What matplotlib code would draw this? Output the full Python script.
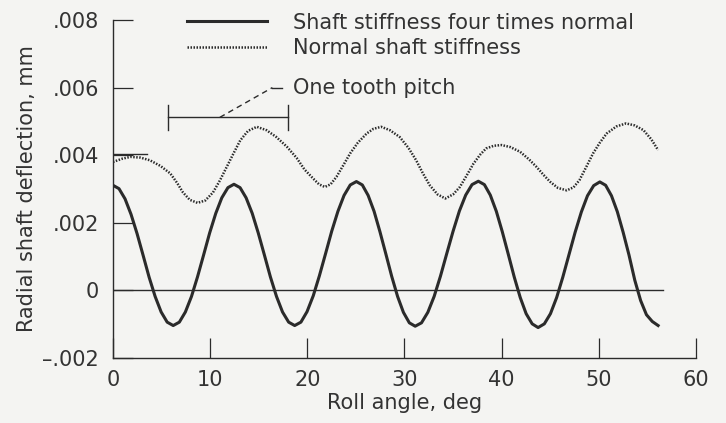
import numpy as np
import matplotlib
matplotlib.use("Agg")
from matplotlib import pyplot as plt
from matplotlib.ticker import FuncFormatter

# roll angle (deg) and deflection (mm)
stiff_x = [0.0, 0.62, 1.24, 1.86, 2.48, 3.1, 3.72, 4.34, 4.96, 5.58,
           6.2, 6.83, 7.45, 8.08, 8.7, 9.33, 9.95, 10.58, 11.2, 11.83,
           12.45, 13.08, 13.7, 14.33, 14.95, 15.58, 16.2, 16.83, 17.45, 18.08,
           18.7, 19.34, 19.97, 20.61, 21.24, 21.88, 22.51, 23.15, 23.78, 24.42,
           25.05, 25.66, 26.26, 26.87, 27.47, 28.08, 28.68, 29.29, 29.89, 30.5,
           31.1, 31.75, 32.4, 33.05, 33.7, 34.35, 35.0, 35.65, 36.3, 36.95,
           37.6, 38.22, 38.83, 39.45, 40.06, 40.68, 41.29, 41.91, 42.52, 43.14,
           43.75, 44.39, 45.02, 45.66, 46.29, 46.93, 47.56, 48.2, 48.83, 49.47,
           50.1, 50.7, 51.3, 51.9, 52.5, 53.1, 53.7, 54.3, 54.9, 55.5, 56.1]
stiff_y = [0.00311, 0.00301, 0.00271, 0.00225, 0.00168, 0.00104, 0.00039, -0.00018, -0.00064, -0.00094,
           -0.00104, -0.00094, -0.00064, -0.00018, 0.00040, 0.00105, 0.00170, 0.00228, 0.00274, 0.00304,
           0.00314, 0.00304, 0.00274, 0.00228, 0.00170, 0.00105, 0.00040, -0.00018, -0.00064, -0.00094,
           -0.00104, -0.00094, -0.00063, -0.00016, 0.00043, 0.00109, 0.00175, 0.00234, 0.00281, 0.00312,
           0.00322, 0.00312, 0.00281, 0.00234, 0.00174, 0.00108, 0.00042, -0.00018, -0.00065, -0.00096,
           -0.00106, -0.00096, -0.00065, -0.00018, 0.00042, 0.00109, 0.00175, 0.00235, 0.00282, 0.00313,
           0.00323, 0.00313, 0.00282, 0.00234, 0.00174, 0.00107, 0.00040, -0.00021, -0.00069, -0.00099,
           -0.00110, -0.00099, -0.00069, -0.00021, 0.00039, 0.00106, 0.00172, 0.00232, 0.00280, 0.00310,
           0.00321, 0.00311, 0.00280, 0.00233, 0.00172, 0.00105, 0.00030, -0.00030, -0.00072, -0.00092, -0.00104]

normal_x = [0.0, 1.0, 1.8, 2.8, 3.8, 4.9, 5.9, 6.6, 7.2, 7.9, 8.7, 9.5, 10.3,
            11.0, 11.7, 12.4, 13.1, 13.9, 14.8, 15.8, 16.8, 17.9, 18.9, 19.7, 20.6,
            21.2, 21.8, 22.4, 23.0, 23.7, 24.4, 25.2, 26.1, 26.8, 27.6, 28.5, 29.5,
            30.4, 31.2, 31.9, 32.6, 33.4, 34.2, 35.0, 35.7, 36.4, 37.1, 37.8, 38.4,
            39.2, 40.0, 40.9, 41.9, 42.8, 43.6, 44.3, 45.0, 45.8, 46.7, 47.4, 48.0,
            48.7, 49.4, 50.1, 50.8, 51.8, 52.8, 53.7, 54.6, 55.4, 56.1]
normal_y = [0.00380, 0.00390, 0.00395, 0.00393, 0.00385, 0.00368, 0.00346, 0.00318, 0.00290, 0.00268,
            0.00259, 0.00266, 0.00290, 0.00325, 0.00365, 0.00405, 0.00444, 0.00472, 0.00484, 0.00474,
            0.00454, 0.00425, 0.00392, 0.00358, 0.00331, 0.00314, 0.00306, 0.00314, 0.00336, 0.00370,
            0.00405, 0.00437, 0.00464, 0.00478, 0.00484, 0.00474, 0.00454, 0.00422, 0.00385, 0.00346,
            0.00311, 0.00284, 0.00272, 0.00284, 0.00306, 0.00340, 0.00375, 0.00402, 0.00420, 0.00428,
            0.00430, 0.00424, 0.00410, 0.00388, 0.00365, 0.00342, 0.00321, 0.00303, 0.00296, 0.00305,
            0.00326, 0.00365, 0.00405, 0.00437, 0.00464, 0.00485, 0.00494, 0.00488, 0.00474, 0.00447,
            0.00415]

# short flat trace at the start of the normal curve
flat_x = [0.0, 3.5]
flat_y = [0.00403, 0.00403]

# one tooth pitch bracket
pitch_x = [5.7, 18.0]
pitch_y = 0.00512

zero_x = [0.0, 56.6]

x_ticks = [0, 10, 20, 30, 40, 50, 60]
y_ticks = [-0.002, 0.0, 0.002, 0.004, 0.006, 0.008]

ink = "#2b2b2b"
text_ink = "#333333"
bg = "#f4f4f2"

plt.rcParams["font.family"] = ["DejaVu Sans"]
plt.rcParams["font.size"] = 15

fig = plt.figure(figsize=(7.26, 4.23), dpi=100, facecolor=bg)
ax = fig.add_axes([0.1556, 0.1537, 0.8031, 0.7990], facecolor=bg)

ax.plot(zero_x, [0, 0], color=ink, lw=1.0)
ax.plot(flat_x, flat_y, color=ink, lw=1.0)
ax.plot(normal_x, normal_y, color=ink, lw=1.8, linestyle=(0, (0.6, 0.6)),
        label="Normal shaft stiffness")
ax.plot(stiff_x, stiff_y, color=ink, lw=2.2, solid_joinstyle="round",
        label="Shaft stiffness four times normal")

# bracket with end caps
ax.plot(pitch_x, [pitch_y, pitch_y], color=ink, lw=1.0)
for px in pitch_x:
    ax.plot([px, px], [pitch_y - 0.00037, pitch_y + 0.00037], color=ink, lw=1.0)

# leader to the label
ax.plot([11.0, 16.4], [pitch_y, 0.00600], color=ink, lw=1.0, linestyle=(0, (4, 3)))
ax.plot([16.4, 17.4], [0.00600, 0.00600], color=ink, lw=1.0)
ax.text(18.5, 0.00600, "One tooth pitch", color=text_ink, va="center", ha="left")

h, l = ax.get_legend_handles_labels()
leg = ax.legend(h[::-1], l[::-1], loc="center left", bbox_to_anchor=(0.127, 0.955),
                frameon=False, handlelength=3.85, handletextpad=1.25,
                labelspacing=0.25, borderpad=0, borderaxespad=0)
for t in leg.get_texts():
    t.set_color(text_ink)

ax.set_xlim(0, 60)
ax.set_ylim(-0.002, 0.008)
ax.set_xticks(x_ticks)
ax.set_yticks(y_ticks)


def fmt(v, pos):
    if abs(v) < 1e-12:
        return "0"
    s = f"{abs(v):.3f}".lstrip("0")
    return ("\u2013" if v < 0 else "") + s


ax.yaxis.set_major_formatter(FuncFormatter(fmt))
ax.tick_params(direction="in", length=14.5, width=0.9, color=ink, labelcolor=text_ink)
ax.tick_params(axis="y", pad=10)
ax.tick_params(axis="x", pad=9)

for side in ["top", "right"]:
    ax.spines[side].set_visible(False)
for side in ["left", "bottom"]:
    ax.spines[side].set_color(ink)
    ax.spines[side].set_linewidth(1.0)

ax.set_xlabel("Roll angle, deg", color=text_ink, labelpad=2)
ax.set_ylabel("Radial shaft deflection, mm", color=text_ink, labelpad=4)

fig.savefig("out.png", dpi=100, facecolor=bg)
